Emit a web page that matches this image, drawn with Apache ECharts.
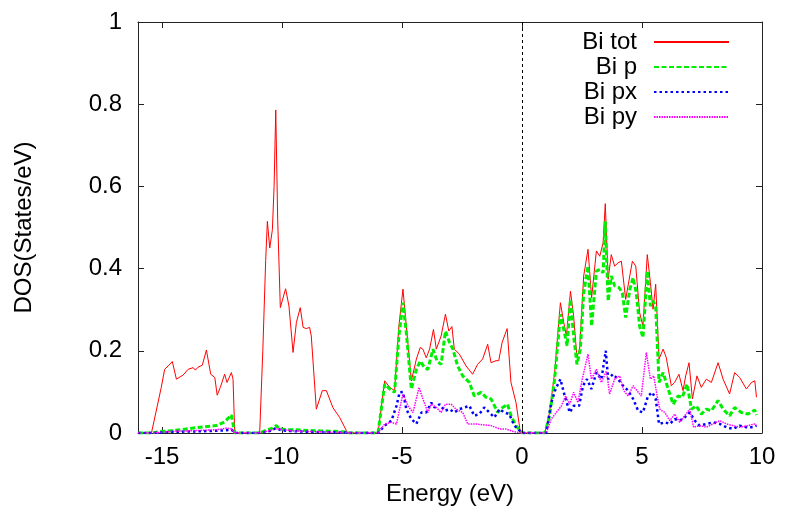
<!DOCTYPE html>
<html>
<head>
<meta charset="utf-8">
<script src="https://cdn.jsdelivr.net/npm/echarts@6/dist/echarts.min.js"></script>
<style>
  html, body { margin: 0; padding: 0; background: #fff; }
  #chart { width: 785px; height: 511px; }
</style>
</head>
<body>
<div id="chart"></div>
<script>
// Projected density of states of Bi, energies relative to the Fermi level (eV)
const seriesNames = ['Bi tot', 'Bi p', 'Bi px', 'Bi py'];
const xTicks = [-15, -10, -5, 0, 5, 10];

const totE = [-16, -15.44, -15.03, -14.89, -14.71, -14.57, -14.40, -14.12, -13.91, -13.70, -13.61, -13.50, -13.32, -13.15, -12.97, -12.80, -12.70, -12.57, -12.39, -12.29, -12.11, -12.04, -11.97,
  -10.93, -10.80, -10.68, -10.61, -10.51, -10.40, -10.33, -10.26, -10.18, -10.07, -9.85, -9.71, -9.54, -9.40, -9.24, -9.12, -8.99, -8.85, -8.78, -8.57, -8.32, -8.15, -7.88, -7.60, -7.32, -7.25,
  -6.00, -5.72, -5.51, -5.31, -5.13, -4.96, -4.82, -4.61, -4.40, -4.24, -4.13, -3.99, -3.85, -3.69, -3.57, -3.37, -3.19, -3.05, -2.92, -2.82, -2.61, -2.33, -2.06, -1.85, -1.64, -1.43, -1.29, -1.08, -0.97, -0.83, -0.62, -0.46, -0.25, -0.08, 0.00,
  0.95, 1.15, 1.36, 1.60, 1.74, 1.85, 2.02, 2.15, 2.29, 2.40, 2.57, 2.75, 2.90, 3.10, 3.24, 3.38, 3.47, 3.59, 3.72, 3.86, 4.00, 4.14, 4.32, 4.49, 4.60, 4.74, 4.90, 5.04, 5.22, 5.35, 5.46, 5.57, 5.71, 5.88, 6.01, 6.22, 6.36, 6.54, 6.71, 6.82, 6.96, 7.10, 7.29, 7.47, 7.68, 7.89, 8.17, 8.38, 8.65, 8.86, 9.07, 9.35, 9.56, 9.70, 9.77];
const totDos = [0, 0, 0.111, 0.155, 0.165, 0.174, 0.131, 0.141, 0.155, 0.159, 0.153, 0.160, 0.165, 0.202, 0.143, 0.135, 0.092, 0.111, 0.143, 0.123, 0.147, 0.131, 0,
  0, 0.20, 0.42, 0.515, 0.45, 0.495, 0.60, 0.786, 0.52, 0.305, 0.351, 0.309, 0.196, 0.269, 0.305, 0.257, 0.254, 0.257, 0.236, 0.058, 0.103, 0.103, 0.062, 0.038, 0.006, 0,
  0, 0.127, 0.111, 0.103, 0.260, 0.350, 0.260, 0.127, 0.180, 0.208, 0.204, 0.183, 0.204, 0.252, 0.204, 0.236, 0.289, 0.248, 0.259, 0.204, 0.192, 0.163, 0.143, 0.167, 0.180, 0.216, 0.171, 0.176, 0.176, 0.220, 0.254, 0.123, 0.074, 0.006, 0,
  0, 0.050, 0.147, 0.317, 0.269, 0.236, 0.345, 0.285, 0.184, 0.204, 0.382, 0.447, 0.329, 0.443, 0.430, 0.463, 0.558, 0.374, 0.434, 0.406, 0.414, 0.418, 0.325, 0.382, 0.418, 0.406, 0.293, 0.260, 0.434, 0.366, 0.301, 0.362, 0.180, 0.204, 0.184, 0.115, 0.123, 0.143, 0.103, 0.139, 0.171, 0.083, 0.139, 0.111, 0.131, 0.123, 0.171, 0.131, 0.095, 0.147, 0.135, 0.107, 0.123, 0.127, 0.087];

const pE = [-16, -15.44, -15.00, -14.68, -14.20, -13.57, -13.10, -12.74, -12.39, -12.11, -11.97,
  -10.93, -10.70, -10.40, -10.24, -10.10, -9.80, -9.40, -8.90, -8.40, -7.80, -7.30, -7.20,
  -6.00, -5.72, -5.51, -5.31, -5.13, -4.96, -4.82, -4.61, -4.40, -4.24, -4.06, -3.92, -3.71, -3.54, -3.37, -3.19, -3.02, -2.88, -2.68, -2.47, -2.19, -1.99, -1.71, -1.50, -1.29, -1.01, -0.81, -0.60, -0.46, -0.25, 0.00,
  0.95, 1.15, 1.36, 1.60, 1.74, 1.88, 2.02, 2.15, 2.29, 2.43, 2.57, 2.75, 2.90, 3.10, 3.24, 3.38, 3.47, 3.59, 3.72, 3.86, 4.04, 4.18, 4.32, 4.49, 4.63, 4.76, 4.90, 5.04, 5.22, 5.35, 5.46, 5.57, 5.71, 5.88, 6.09, 6.30, 6.50, 6.68, 6.88, 7.06, 7.26, 7.47, 7.68, 7.89, 8.17, 8.38, 8.65, 8.86, 9.14, 9.42, 9.70, 9.77];
const pDos = [0, 0, 0.004, 0.005, 0.008, 0.013, 0.016, 0.018, 0.027, 0.044, 0,
  0, 0.006, 0.012, 0.018, 0.010, 0.008, 0.008, 0.006, 0.005, 0.004, 0.002, 0,
  0, 0.119, 0.107, 0.099, 0.236, 0.317, 0.244, 0.107, 0.155, 0.175, 0.159, 0.155, 0.204, 0.175, 0.167, 0.248, 0.220, 0.204, 0.163, 0.139, 0.123, 0.090, 0.099, 0.087, 0.083, 0.050, 0.062, 0.070, 0.042, 0.018, 0,
  0, 0.042, 0.131, 0.289, 0.252, 0.212, 0.325, 0.236, 0.167, 0.204, 0.341, 0.406, 0.260, 0.394, 0.398, 0.390, 0.515, 0.321, 0.382, 0.358, 0.354, 0.341, 0.281, 0.349, 0.378, 0.341, 0.260, 0.232, 0.394, 0.309, 0.321, 0.309, 0.123, 0.147, 0.107, 0.070, 0.090, 0.087, 0.119, 0.058, 0.066, 0.046, 0.058, 0.054, 0.079, 0.058, 0.042, 0.062, 0.050, 0.046, 0.056, 0.044];

const pxE = [-16, -15.40, -14.50, -13.50, -12.50, -12.10, -11.97,
  -10.93, -10.50, -10.25, -10.00, -9.00, -7.30, -7.20,
  -6.00, -5.72, -5.44, -5.23, -5.10, -4.96, -4.82, -4.61, -4.40, -4.19, -3.99, -3.78, -3.64, -3.43, -3.22, -3.02, -2.82, -2.61, -2.40, -2.19, -1.99, -1.78, -1.57, -1.36, -1.15, -0.94, -0.74, -0.53, -0.32, 0.00,
  1.01, 1.22, 1.40, 1.60, 1.78, 1.99, 2.15, 2.38, 2.54, 2.71, 2.89, 3.10, 3.31, 3.49, 3.59, 3.79, 4.00, 4.21, 4.42, 4.63, 4.84, 5.04, 5.25, 5.43, 5.57, 5.71, 5.95, 6.16, 6.36, 6.57, 6.78, 6.99, 7.20, 7.40, 7.68, 7.96, 8.24, 8.52, 8.79, 9.07, 9.35, 9.63, 9.77];
const pxDos = [0, 0, 0.003, 0.004, 0.006, 0.008, 0,
  0, 0.005, 0.012, 0.006, 0.003, 0.001, 0,
  0, 0.018, 0.030, 0.066, 0.099, 0.100, 0.058, 0.034, 0.022, 0.050, 0.050, 0.074, 0.062, 0.070, 0.054, 0.058, 0.050, 0.058, 0.062, 0.066, 0.042, 0.046, 0.062, 0.050, 0.038, 0.058, 0.050, 0.046, 0.018, 0,
  0, 0.074, 0.107, 0.131, 0.090, 0.050, 0.066, 0.066, 0.115, 0.131, 0.107, 0.147, 0.131, 0.200, 0.131, 0.143, 0.131, 0.115, 0.103, 0.083, 0.054, 0.050, 0.090, 0.099, 0.083, 0.022, 0.026, 0.022, 0.034, 0.030, 0.038, 0.050, 0.030, 0.018, 0.022, 0.026, 0.022, 0.014, 0.010, 0.018, 0.014, 0.014, 0.018];

const pyE = [-16, -15.40, -15.00, -14.50, -13.50, -12.70, -12.30, -12.10, -11.97,
  -10.93, -10.25, -9.50, -8.00, -7.20,
  -6.00, -5.72, -5.44, -5.23, -5.10, -4.96, -4.75, -4.54, -4.29, -4.13, -3.92, -3.78, -3.57, -3.37, -3.19, -2.95, -2.75, -2.47, -2.26, -1.92, -1.64, -1.29, -0.94, -0.67, -0.39, 0.00,
  1.01, 1.22, 1.43, 1.64, 1.82, 1.99, 2.15, 2.33, 2.51, 2.75, 2.89, 3.10, 3.31, 3.52, 3.65, 3.86, 4.07, 4.24, 4.42, 4.63, 4.79, 4.97, 5.18, 5.35, 5.49, 5.63, 5.74, 5.95, 6.16, 6.36, 6.57, 6.78, 6.99, 7.15, 7.40, 7.68, 7.96, 8.24, 8.52, 8.79, 9.07, 9.42, 9.70, 9.77];
const pyDos = [0, 0, 0.002, 0.004, 0.006, 0.008, 0.012, 0.010, 0,
  0, 0.010, 0.005, 0.002, 0,
  0, 0.022, 0.026, 0.022, 0.058, 0.095, 0.066, 0.050, 0.111, 0.083, 0.050, 0.070, 0.062, 0.050, 0.070, 0.070, 0.058, 0.050, 0.022, 0.022, 0.020, 0.018, 0.010, 0.010, 0.004, 0,
  0, 0.034, 0.050, 0.066, 0.090, 0.070, 0.099, 0.074, 0.131, 0.192, 0.131, 0.155, 0.123, 0.151, 0.095, 0.131, 0.139, 0.103, 0.090, 0.115, 0.103, 0.090, 0.196, 0.131, 0.139, 0.090, 0.058, 0.050, 0.030, 0.046, 0.026, 0.042, 0.058, 0.014, 0.018, 0.014, 0.022, 0.030, 0.022, 0.018, 0.014, 0.018, 0.022, 0.018];

const zip = (xs, ys) => xs.map((x, i) => [x, ys[i]]);

const FONT = '"Liberation Sans", Arial, Helvetica, sans-serif';
const frame = { show: true, onZero: false, lineStyle: { color: '#222', width: 1 } };
const tick = { show: true, inside: true, length: 6, lineStyle: { color: '#222', width: 1 } };

const chart = echarts.init(document.getElementById('chart'), null, { renderer: 'canvas' });

const lineSeries = (name, data, color, width, type) => ({
  name, type: 'line', data,
  xAxisIndex: 0, yAxisIndex: 0,
  showSymbol: false, symbol: 'none', smooth: false,
  lineStyle: { color, width, type },
  itemStyle: { color },
  emphasis: { disabled: true }
});

chart.setOption({
  animation: false,
  backgroundColor: '#fff',
  textStyle: { fontFamily: FONT },
  grid: { left: 138, right: 23, top: 22, bottom: 77, containLabel: false },
  legend: {
    orient: 'vertical',
    right: 50,
    top: 25,
    align: 'right',
    itemWidth: 75,
    itemHeight: 14,
    itemGap: 1,
    selectedMode: false,
    itemStyle: { opacity: 0 },
    textStyle: { fontSize: 24, lineHeight: 24, color: '#000', fontFamily: FONT, padding: [0, 12, 0, 0] },
    data: seriesNames
  },
  xAxis: [
    {
      type: 'value', min: -16, max: 10, position: 'bottom',
      axisLine: frame, axisTick: tick, splitLine: { show: false },
      axisLabel: {
        fontSize: 24, color: '#000', margin: 12, fontFamily: FONT,
        showMinLabel: false,
        formatter: v => (xTicks.indexOf(v) >= 0 ? String(v) : '')
      },
      name: 'Energy (eV)', nameLocation: 'middle', nameGap: 49,
      nameTextStyle: { fontSize: 24, color: '#000', fontFamily: FONT }
    },
    {
      type: 'value', min: -16, max: 10, position: 'top',
      axisLine: frame, axisTick: tick, splitLine: { show: false },
      axisLabel: { show: false }
    }
  ],
  yAxis: [
    {
      type: 'value', min: 0, max: 1, interval: 0.2, position: 'left',
      axisLine: frame, axisTick: tick, splitLine: { show: false },
      axisLabel: { fontSize: 24, color: '#000', margin: 16, fontFamily: FONT },
      name: 'DOS(States/eV)', nameLocation: 'middle', nameGap: 102, nameRotate: 90,
      nameTextStyle: { fontSize: 24, color: '#000', fontFamily: FONT }
    },
    {
      type: 'value', min: 0, max: 1, interval: 0.2, position: 'right',
      axisLine: frame, axisTick: tick, splitLine: { show: false },
      axisLabel: { show: false }
    }
  ],
  series: [
    Object.assign(lineSeries(seriesNames[0], zip(totE, totDos), '#ff0000', 1, 'solid'), {
      markLine: {
        silent: true, symbol: 'none', animation: false,
        label: { show: false },
        lineStyle: { color: '#000', width: 1, type: [3, 3] },
        data: [{ xAxis: 0 }]
      }
    }),
    lineSeries(seriesNames[1], zip(pE, pDos), '#00ee00', 3, [5, 2.5]),
    lineSeries(seriesNames[2], zip(pxE, pxDos), '#0000ff', 2.5, [2.5, 3]),
    lineSeries(seriesNames[3], zip(pyE, pyDos), '#ff00ff', 1.5, [1.5, 1])
  ]
});
</script>
</body>
</html>
